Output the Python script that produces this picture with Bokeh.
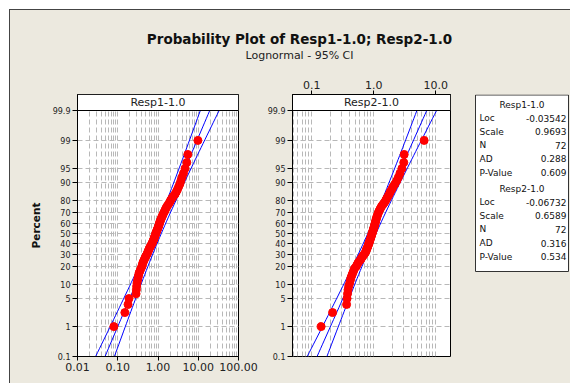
import math
from bokeh.plotting import figure
from bokeh.models import Range1d, FixedTicker, Label
from bokeh.layouts import column, row
from bokeh.embed import file_html
from bokeh.resources import INLINE
from bokeh.core.properties import value

# ---------------- data ----------------
title_text = "Probability Plot of Resp1-1.0; Resp2-1.0"
subtitle_text = "Lognormal - 95% CI"
series_names = ["Resp1-1.0", "Resp2-1.0"]

resp1 = [0.080, 0.150, 0.180, 0.190, 0.285, 0.290, 0.295, 0.300, 0.310, 0.320,
         0.330, 0.340, 0.360, 0.375, 0.400, 0.410, 0.420, 0.440, 0.460, 0.480,
         0.500, 0.530, 0.550, 0.570, 0.590, 0.610, 0.640, 0.670, 0.700, 0.730,
         0.750, 0.780, 0.800, 0.820, 0.850, 0.870, 0.890, 0.920, 0.950, 0.980,
         1.010, 1.040, 1.070, 1.090, 1.120, 1.160, 1.200, 1.240, 1.290, 1.340,
         1.400, 1.470, 1.530, 1.600, 1.700, 1.820, 1.950, 2.050, 2.200, 2.400,
         2.650, 2.850, 3.050, 3.250, 3.500, 3.700, 3.950, 4.300, 4.700, 5.200,
         5.500, 9.800]
resp2 = [0.142, 0.217, 0.365, 0.372, 0.378, 0.385, 0.395, 0.410, 0.420, 0.430,
         0.445, 0.460, 0.475, 0.490, 0.520, 0.540, 0.560, 0.590, 0.620, 0.640,
         0.670, 0.700, 0.730, 0.750, 0.760, 0.780, 0.800, 0.815, 0.830, 0.845,
         0.860, 0.875, 0.890, 0.905, 0.920, 0.935, 0.950, 0.965, 0.980, 0.995,
         1.010, 1.025, 1.040, 1.055, 1.070, 1.085, 1.100, 1.120, 1.140, 1.165,
         1.190, 1.220, 1.260, 1.300, 1.350, 1.420, 1.500, 1.560, 1.620, 1.700,
         1.780, 1.850, 1.950, 2.050, 2.200, 2.350, 2.500, 2.650, 2.850, 3.050,
         3.100, 6.500]

locs = [-0.03542, -0.06732]
scales = [0.9693, 0.6589]
ns = [72, 72]
ads = [0.288, 0.316]
pvalues = [0.609, 0.534]

percent_ticks = [0.1, 1, 5, 10, 20, 30, 40, 50, 60, 70, 80, 90, 95, 99, 99.9]
percent_labels = ["0.1", "1", "5", "10", "20", "30", "40", "50", "60", "70",
                  "80", "90", "95", "99", "99.9"]
x1_ticks = [0.01, 0.1, 1.0, 10.0, 100.0]
x1_labels = ["0.01", "0.10", "1.00", "10.00", "100.00"]
x1_range = (0.01, 100.0)
x2_ticks = [0.1, 1.0, 10.0]
x2_labels = ["0.1", "1.0", "10.0"]
x2_range = (0.049, 17.3)

# ---------------- style / layout ----------------
BG = "#ECE9DF"
FONT = "DejaVu Sans"
GRID_COL = "#B8B8B8"
ROW_H = 313
MBT, MBB = 24, 27
FRAME_H = ROW_H - MBT - MBB
HEADER_PX, PLOT_PX = 16, 246
P_LO, P_HI = 0.001, 0.999


def norm_ppf(p):
    a = [-3.969683028665376e+01, 2.209460984245205e+02, -2.759285104469687e+02,
         1.383577518672690e+02, -3.066479806614716e+01, 2.506628277459239e+00]
    b = [-5.447609879822406e+01, 1.615858368580409e+02, -1.556989798598866e+02,
         6.680131188771972e+01, -1.328068155288572e+01]
    c = [-7.784894002430293e-03, -3.223964580411365e-01, -2.400758277161838e+00,
         -2.549732539343734e+00, 4.374664141464968e+00, 2.938163982698783e+00]
    d = [7.784695709041462e-03, 3.224671290700398e-01, 2.445134137142996e+00,
         3.754408661907416e+00]
    plow = 0.02425
    if p < plow:
        q = math.sqrt(-2 * math.log(p))
        return (((((c[0]*q+c[1])*q+c[2])*q+c[3])*q+c[4])*q+c[5]) / \
               ((((d[0]*q+d[1])*q+d[2])*q+d[3])*q+1)
    if p <= 1 - plow:
        q = p - 0.5
        r = q * q
        return (((((a[0]*r+a[1])*r+a[2])*r+a[3])*r+a[4])*r+a[5])*q / \
               (((((b[0]*r+b[1])*r+b[2])*r+b[3])*r+b[4])*r+1)
    q = math.sqrt(-2 * math.log(1 - p))
    return -(((((c[0]*q+c[1])*q+c[2])*q+c[3])*q+c[4])*q+c[5]) / \
            ((((d[0]*q+d[1])*q+d[2])*q+d[3])*q+1)


z_ticks = [norm_ppf(v / 100.0) for v in percent_ticks]
y_overrides = {z: lab for z, lab in zip(z_ticks, percent_labels)}


def minor_grid(lo, hi):
    out = []
    for k in range(-3, 4):
        for m in range(1, 10):
            v = m * 10.0 ** k
            if lo <= v <= hi:
                out.append(v)
    return out


def panel(vals, loc, scale, n, name, xr, width, mbl, mbr, xticks, xlabels, xloc, ylabel):
    zlo, zhi = norm_ppf(P_LO), norm_ppf(P_HI)
    ztop = zhi + (zhi - zlo) * HEADER_PX / PLOT_PX
    p = figure(width=width, height=ROW_H, x_axis_type="log", title=None,
               x_range=Range1d(*xr), y_range=Range1d(zlo, ztop),
               x_axis_location=xloc, output_backend="svg", toolbar_location=None,
               min_border_left=mbl, min_border_right=mbr,
               min_border_top=MBT, min_border_bottom=MBB)
    p.border_fill_color = BG
    p.background_fill_color = "white"
    p.outline_line_color = "black"

    # grids
    p.xgrid.ticker = FixedTicker(ticks=minor_grid(*xr))
    p.ygrid.ticker = FixedTicker(ticks=z_ticks)
    for g in (p.xgrid, p.ygrid):
        g.grid_line_color = GRID_COL
        g.grid_line_dash = "5 3"
        g.grid_line_width = 1

    # axes
    xa = p.xaxis[0]
    xa.ticker = FixedTicker(ticks=xticks)
    xa.major_label_overrides = {t: l for t, l in zip(xticks, xlabels)}
    xa.major_label_text_font = FONT
    xa.major_label_text_font_size = "11px"
    xa.major_label_text_color = "#222222"
    xa.major_tick_out = 4
    xa.major_tick_in = 0
    xa.minor_tick_line_color = None
    xa.major_label_standoff = 2
    xa.axis_line_color = "black"

    ya = p.yaxis[0]
    ya.ticker = FixedTicker(ticks=z_ticks)
    ya.major_label_overrides = y_overrides
    ya.major_label_text_font = FONT
    ya.major_label_text_font_size = "8px"
    ya.major_label_text_color = "#222222"
    ya.major_tick_out = 5
    ya.major_tick_in = 0
    ya.minor_tick_line_color = None
    ya.major_label_standoff = 2
    ya.axis_line_color = "black"
    if ylabel:
        ya.axis_label = ylabel
        ya.axis_label_text_font = FONT
        ya.axis_label_text_font_style = "bold"
        ya.axis_label_text_font_size = "10.5px"
        ya.axis_label_text_color = "#111111"
        ya.axis_label_standoff = 8

    # fitted line and 95% confidence band
    zs = [zlo + (zhi - zlo) * k / 60.0 for k in range(61)]
    fit = [math.exp(loc + scale * z) for z in zs]
    se = [scale * math.sqrt((1 + z * z / 2.0) / n) for z in zs]
    lower = [math.exp(loc + scale * z - 1.96 * s) for z, s in zip(zs, se)]
    upper = [math.exp(loc + scale * z + 1.96 * s) for z, s in zip(zs, se)]
    for xs in (lower, fit, upper):
        p.line(xs, zs, line_color="#0000FF", line_width=1)

    # data points at median-rank plotting positions
    sv = sorted(vals)
    zp = [norm_ppf((i - 0.3) / (n + 0.4)) for i in range(1, n + 1)]
    p.scatter(sv, zp, size=8, fill_color="#FF0000", line_color="#FF0000")

    # header strip
    p.quad(left=[xr[0]], right=[xr[1]], bottom=[zhi], top=[ztop],
           fill_color="white", line_color="black", line_width=1)
    p.add_layout(Label(x=math.sqrt(xr[0] * xr[1]), y=(zhi + ztop) / 2.0, text=name,
                       text_font=FONT, text_font_size="11px", text_color="#222222",
                       text_align="center", text_baseline="middle"))
    return p


figL = panel(resp1, locs[0], scales[0], ns[0], series_names[0], x1_range, 254, 67, 26,
             x1_ticks, x1_labels, "below", "Percent")
figR = panel(resp2, locs[1], scales[1], ns[1], series_names[1], x2_range, 206, 26, 20,
             x2_ticks, x2_labels, "above", None)

# ---------------- statistics box ----------------
LW = 100
figS = figure(width=LW, height=ROW_H, x_range=Range1d(0, LW), y_range=Range1d(0, FRAME_H),
              x_axis_type=None, y_axis_type=None, output_backend="svg", title=None,
              toolbar_location=None, min_border_left=0, min_border_right=0,
              min_border_top=MBT, min_border_bottom=MBB)
figS.border_fill_color = BG
figS.background_fill_color = BG
figS.outline_line_color = None
box_l, box_r, box_t, box_b = 5, 98, FRAME_H - 0.5, FRAME_H - 177
figS.quad(left=[box_l], right=[box_r], top=[box_t], bottom=[box_b],
          fill_color="white", line_color="#333333", line_width=1)

row_step = 13.6
hx, lx, vx = [], [], []
hy, ly, vy = [], [], []
ht, lt, vt = [], [], []
y = FRAME_H - 10
for k in range(2):
    hx.append((box_l + box_r) / 2.0); hy.append(y); ht.append(series_names[k])
    y -= row_step
    rows = [("Loc", f"{locs[k]:.5f}"), ("Scale", f"{scales[k]:.4f}"), ("N", str(ns[k])),
            ("AD", f"{ads[k]:.3f}"), ("P-Value", f"{pvalues[k]:.3f}")]
    for lab, val in rows:
        lx.append(box_l + 4); ly.append(y); lt.append(lab)
        vx.append(box_r - 2); vy.append(y); vt.append(val)
        y -= row_step
    y -= 2.5
figS.text(x=hx, y=hy, text=ht, text_font=value(FONT), text_font_size="9px",
          text_color="#111111", text_align="center", text_baseline="middle")
figS.text(x=lx, y=ly, text=lt, text_font=value(FONT), text_font_size="9px",
          text_color="#111111", text_align="left", text_baseline="middle")
figS.text(x=vx, y=vy, text=vt, text_font=value(FONT), text_font_size="9px",
          text_color="#111111", text_align="right", text_baseline="middle")

# ---------------- title ----------------
TW, TH = 254 + 206 + LW, 60
figT = figure(width=TW, height=TH, x_range=Range1d(0, TW), y_range=Range1d(0, TH),
              x_axis_type=None, y_axis_type=None, output_backend="svg", title=None,
              toolbar_location=None, min_border=0)
figT.border_fill_color = BG
figT.background_fill_color = BG
figT.outline_line_color = None
figT.text(x=[289], y=[32], text=[title_text], text_font=value(FONT),
          text_font_style="bold", text_font_size="13.5px", text_color="#111111",
          text_align="center", text_baseline="middle")
figT.text(x=[289], y=[15], text=[subtitle_text], text_font=value(FONT),
          text_font_size="11px", text_color="#222222",
          text_align="center", text_baseline="middle")

layout = column(figT, row(figL, figR, figS), margin=(9, 0, 0, 9),
                styles={"border-left": "1px solid #444444", "border-top": "1px solid #444444",
                        "background-color": BG})

open("out.html", "w").write(file_html(layout, INLINE))
